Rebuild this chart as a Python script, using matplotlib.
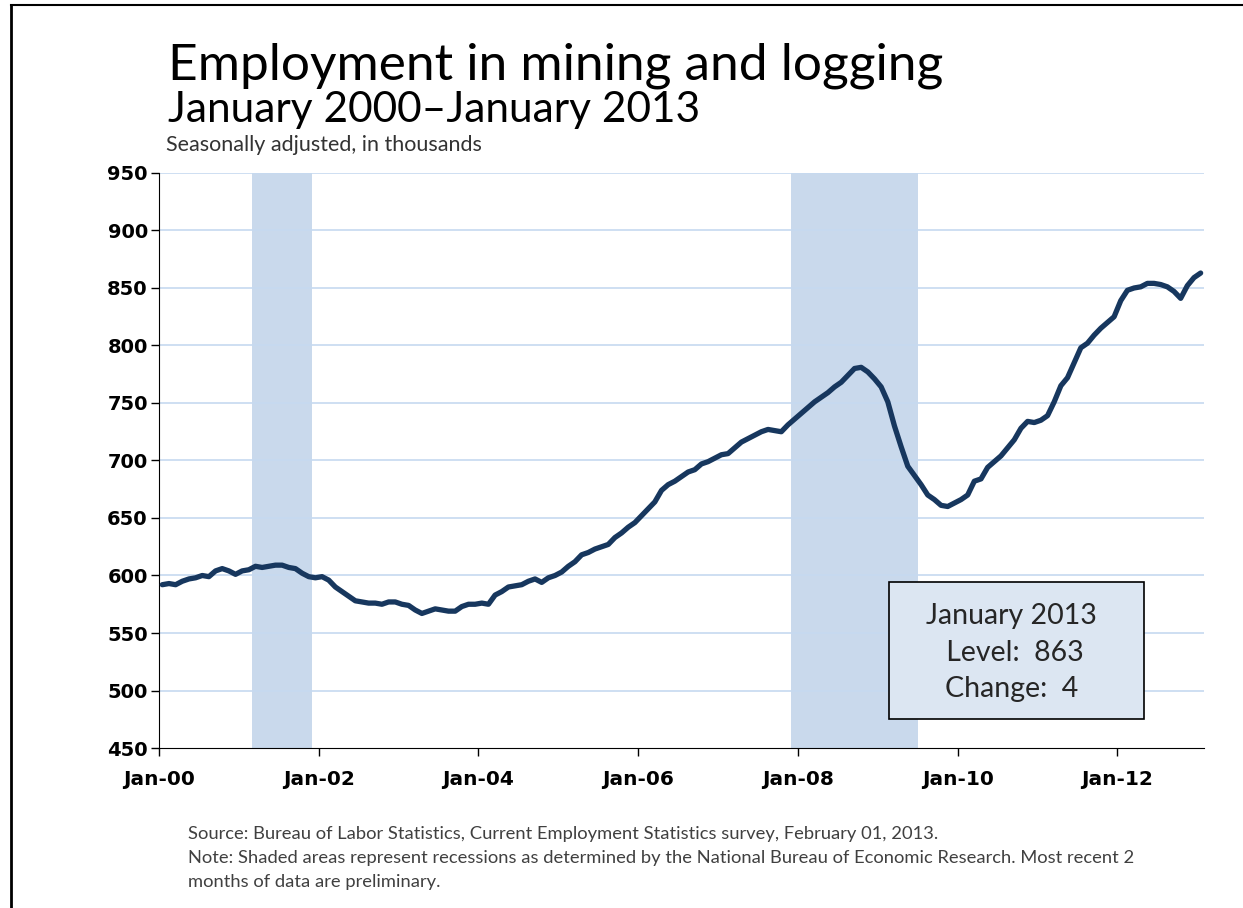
import numpy as np
import matplotlib.pyplot as plt
from matplotlib.lines import Line2D
from matplotlib.patches import Rectangle

# Monthly employment, mining and logging, Jan 2000 - Jan 2013 (thousands)
employment = [
    592, 593, 592, 595, 597, 598, 600, 599, 604, 606, 604, 601,   # 2000
    604, 605, 608, 607, 608, 609, 609, 607, 606, 602, 599, 598,   # 2001
    599, 596, 590, 586, 582, 578, 577, 576, 576, 575, 577, 577,   # 2002
    575, 574, 570, 567, 569, 571, 570, 569, 569, 573, 575, 575,   # 2003
    576, 575, 583, 586, 590, 591, 592, 595, 597, 594, 598, 600,   # 2004
    603, 608, 612, 618, 620, 623, 625, 627, 633, 637, 642, 646,   # 2005
    652, 658, 664, 674, 679, 682, 686, 690, 692, 697, 699, 702,   # 2006
    705, 706, 711, 716, 719, 722, 725, 727, 726, 725, 731, 736,   # 2007
    741, 746, 751, 755, 759, 764, 768, 774, 780, 781, 777, 771,   # 2008
    764, 751, 730, 712, 695, 687, 679, 670, 666, 661, 660, 663,   # 2009
    666, 670, 682, 684, 694, 699, 704, 711, 718, 728, 734, 733,   # 2010
    735, 739, 751, 765, 772, 785, 798, 802, 809, 815, 820, 825,   # 2011
    839, 848, 850, 851, 854, 854, 853, 851, 847, 841, 852, 859,   # 2012
    863,                                                          # 2013
]
tick_labels = ["Jan-00", "Jan-02", "Jan-04", "Jan-06", "Jan-08", "Jan-10", "Jan-12"]
tick_months = [0, 24, 48, 72, 96, 120, 144]
recessions = [(14, 23), (95, 114)]   # month index start / end
y_ticks = [450, 500, 550, 600, 650, 700, 750, 800, 850, 900, 950]

navy = "#17375e"
shade = "#c9d9ec"
grid_blue = "#c6d9f0"

fig = plt.figure(figsize=(12.43, 9.08), dpi=100)
ax = fig.add_axes([0.1279, 0.1762, 0.8407, 0.6333])

x = np.arange(len(employment)) + 0.5
for a, b in recessions:
    ax.axvspan(a, b, color=shade, lw=0, zorder=0)
for v in y_ticks[1:]:
    ax.axhline(v, color=grid_blue, lw=1.2, zorder=1)
ax.plot(x, employment, color=navy, lw=3.8, solid_capstyle="round",
        solid_joinstyle="round", zorder=3)

ax.set_xlim(0, 157)
ax.set_ylim(450, 950)
ax.set_xticks(tick_months)
ax.set_xticklabels(tick_labels)
ax.set_yticks(y_ticks)
ax.tick_params(axis="both", direction="out", length=6, width=1, color="black")
ax.tick_params(axis="y", labelsize=14, pad=2)
ax.tick_params(axis="x", labelsize=14.5, pad=10)
for lab in ax.get_xticklabels() + ax.get_yticklabels():
    lab.set_fontweight("bold")
ax.spines["top"].set_visible(False)
ax.spines["right"].set_visible(False)
ax.spines["left"].set_color("black")
ax.spines["bottom"].set_color("black")

# annotation box
ax.add_patch(Rectangle((0.6985, 0.0504), 0.2445, 0.2383, transform=ax.transAxes,
                       facecolor="#dce6f2", edgecolor="black", lw=1.2, zorder=4))
ax.text(0.816, 0.166, "January 2013\n Level:  863\nChange:  4", transform=ax.transAxes,
        ha="center", va="center", fontsize=20.5, color="#262626", linespacing=1.48,
        family="Lato", zorder=5)

# titles
fig.text(0.135, 0.912, "Employment in mining and logging", fontsize=37,
         family="Lato", color="black", va="baseline")
fig.text(0.135, 0.866, "January 2000\u2013January 2013", fontsize=30.5,
         family="Lato", color="black", va="baseline")
fig.text(0.1335, 0.834, "Seasonally adjusted, in thousands", fontsize=15.5,
         family="Lato", color="#333333", va="baseline")

# footnotes
notes = [
    "Source: Bureau of Labor Statistics, Current Employment Statistics survey, February 01, 2013.",
    "Note: Shaded areas represent recessions as determined by the National Bureau of Economic Research. Most recent 2",
    "months of data are preliminary.",
]
for i, line in enumerate(notes):
    fig.text(0.1515, 0.076 - i * 0.0265, line, fontsize=13.2, family="Lato",
             color="#404040", va="baseline")

# frame lines of the slide
fig.add_artist(Line2D([0.0085, 1.0], [0.995, 0.995], color="black", lw=1.5))
fig.add_artist(Line2D([0.0085, 0.0085], [0.0, 0.995], color="black", lw=2))

fig.savefig("out.png", dpi=100)
